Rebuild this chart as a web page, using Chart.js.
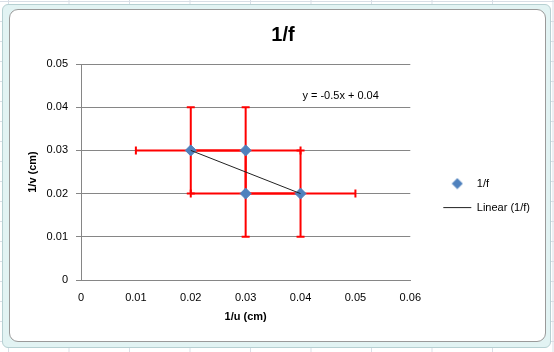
<!DOCTYPE html>
<html>
<head>
<meta charset="utf-8">
<script src="https://cdn.jsdelivr.net/npm/chart.js@4"></script>
<style>
  html, body { margin: 0; padding: 0; }
  body {
    width: 554px; height: 352px; overflow: hidden; position: relative; background: #fff;
    background-image: linear-gradient(90deg, #d8dee6 1px, transparent 1px), linear-gradient(#d8dee6 1px, transparent 1px);
    background-size: 60.5px 20px;
    background-position: 8px 0, 0 1px;
  }
  #frame {
    position: absolute; left: 2px; top: 4px; width: 547px; height: 342px;
    background: #e2f3f3; border: 1px solid #b6d0d2; border-radius: 6px;
  }
  #inner {
    position: absolute; left: 9px; top: 9px; width: 535px; height: 331px;
    background: #fff; border: 1px solid #9a9a9a; border-radius: 9px;
  }
  #wrap { position: absolute; left: 0; top: 0; width: 554px; height: 352px; }
</style>
</head>
<body>
<div id="frame"></div>
<div id="inner"></div>
<div id="wrap"><canvas id="chart" width="554" height="352"></canvas></div>
<script>
// measurements: 1/u and 1/v (cm)
const invU = [0.02, 0.03, 0.03, 0.04];
const invV = [0.03, 0.03, 0.02, 0.02];
const errU = [0.01, 0.01, 0.01, 0.01];
const errV = [0.01, 0.01, 0.01, 0.01];

const xTickLabels = ['0', '0.01', '0.02', '0.03', '0.04', '0.05', '0.06'];
const yTickLabels = ['0', '0.01', '0.02', '0.03', '0.04', '0.05'];

// least squares trend line
const n = invU.length;
const mx = invU.reduce((a, b) => a + b, 0) / n;
const my = invV.reduce((a, b) => a + b, 0) / n;
let sxy = 0, sxx = 0;
for (let i = 0; i < n; i++) {
    sxy += (invU[i] - mx) * (invV[i] - my);
    sxx += (invU[i] - mx) * (invU[i] - mx);
}
const slope = sxy / sxx;
const intercept = my - slope * mx;
const xMin = Math.min(...invU), xMax = Math.max(...invU);
const eqText = 'y = ' + (+slope.toFixed(4)) + 'x + ' + (+intercept.toFixed(4));

const FONT = '"Liberation Sans", Arial, sans-serif';
const BLUE = '#4f81bd';

// small diamond for the legend (so the line entry can be wider)
const diamond = document.createElement('canvas');
diamond.width = 12; diamond.height = 12;
(function () {
    const d = diamond.getContext('2d');
    d.fillStyle = BLUE;
    d.beginPath();
    d.moveTo(6, 0.5); d.lineTo(11.5, 6); d.lineTo(6, 11.5); d.lineTo(0.5, 6);
    d.closePath();
    d.fill();
})();

const errorBars = {
    id: 'errorBars',
    beforeDatasetsDraw(chart) {
        const ctx = chart.ctx;
        const xs = chart.scales.x, ys = chart.scales.y;
        const cap = 4;
        ctx.save();
        ctx.strokeStyle = '#ff0000';
        ctx.lineWidth = 2;
        for (let i = 0; i < invU.length; i++) {
            const px = xs.getPixelForValue(invU[i]);
            const py = ys.getPixelForValue(invV[i]);
            const x1 = xs.getPixelForValue(invU[i] - errU[i]);
            const x2 = xs.getPixelForValue(invU[i] + errU[i]);
            const y1 = ys.getPixelForValue(invV[i] - errV[i]);
            const y2 = ys.getPixelForValue(invV[i] + errV[i]);
            ctx.beginPath();
            ctx.moveTo(x1, py); ctx.lineTo(x2, py);
            ctx.moveTo(x1, py - cap); ctx.lineTo(x1, py + cap);
            ctx.moveTo(x2, py - cap); ctx.lineTo(x2, py + cap);
            ctx.moveTo(px, y1); ctx.lineTo(px, y2);
            ctx.moveTo(px - cap, y1); ctx.lineTo(px + cap, y1);
            ctx.moveTo(px - cap, y2); ctx.lineTo(px + cap, y2);
            ctx.stroke();
        }
        ctx.restore();
    },
    afterDatasetsDraw(chart) {
        const ctx = chart.ctx;
        const xs = chart.scales.x, ys = chart.scales.y;
        ctx.save();
        ctx.fillStyle = '#000';
        ctx.font = '11px ' + FONT;
        ctx.textAlign = 'center';
        ctx.textBaseline = 'middle';
        ctx.fillText(eqText, xs.getPixelForValue(0.0473), ys.getPixelForValue(0.0425));
        ctx.restore();
    }
};

const ctx = document.getElementById('chart').getContext('2d');
const myChart = new Chart(ctx, {
    type: 'scatter',
    data: {
        datasets: [{
            label: '1/f',
            data: invU.map((x, i) => ({ x: x, y: invV[i] })),
            pointStyle: 'rectRot',
            pointRadius: 5.5,
            backgroundColor: BLUE,
            borderColor: BLUE,
            borderWidth: 1,
            order: 1
        }, {
            label: 'Linear (1/f)',
            type: 'line',
            data: [{ x: xMin, y: slope * xMin + intercept }, { x: xMax, y: slope * xMax + intercept }],
            borderColor: '#222',
            backgroundColor: '#222',
            borderWidth: 1,
            pointRadius: 0,
            pointStyle: 'line',
            fill: false,
            order: 0
        }]
    },
    options: {
        responsive: false,
        animation: false,
        layout: { padding: { left: 26, right: 14, top: 13, bottom: 22 } },
        plugins: {
            title: {
                display: true,
                text: '1/f',
                color: '#000',
                font: { family: FONT, size: 20, weight: 'bold' },
                padding: { top: 10, bottom: 17 }
            },
            legend: {
                position: 'right',
                maxWidth: 200,
                title: { display: true, text: ' ', font: { size: 11 }, padding: { top: 0, bottom: 35 } },
                labels: {
                    usePointStyle: true,
                    pointStyleWidth: 28,
                    boxHeight: 8,
                    color: '#000',
                    font: { family: FONT, size: 11 },
                    padding: 13,
                    sort: (a, b) => a.datasetIndex - b.datasetIndex,
                    generateLabels(chart) {
                        const items = Chart.defaults.plugins.legend.labels.generateLabels(chart);
                        items.forEach(it => {
                            if (it.datasetIndex === 0) it.pointStyle = diamond;
                            it.lineWidth = 1;
                        });
                        return items;
                    }
                }
            },
            tooltip: { enabled: false }
        },
        scales: {
            x: {
                type: 'linear',
                min: 0, max: 0.06,
                ticks: {
                    stepSize: 0.01,
                    color: '#000',
                    font: { family: FONT, size: 11 },
                    maxRotation: 0,
                    padding: 6,
                    callback: (v, i) => xTickLabels[i]
                },
                grid: { display: false, drawTicks: true, tickLength: 5, tickColor: '#868686' },
                border: { color: '#868686', width: 1 },
                title: {
                    display: true, text: '1/u (cm)', color: '#000',
                    font: { family: FONT, size: 11, weight: 'bold' },
                    padding: { top: 4, bottom: 6 }
                },
                afterFit(scale) { scale.height = 50; }
            },
            y: {
                type: 'linear',
                min: 0, max: 0.05,
                ticks: {
                    stepSize: 0.01,
                    color: '#000',
                    font: { family: FONT, size: 11 },
                    padding: 8,
                    callback: (v, i) => yTickLabels[i]
                },
                grid: { color: '#868686', lineWidth: 1, tickLength: 5, tickColor: '#868686' },
                border: { color: '#868686', width: 1 },
                title: {
                    display: true, text: '1/v (cm)', color: '#000',
                    font: { family: FONT, size: 11, weight: 'bold' },
                    padding: { top: 0, bottom: 8 }
                },
                afterFit(scale) { scale.width = 55; }
            },
            // empty spacer between plot area and legend
            gap: {
                type: 'linear',
                position: 'right',
                display: true,
                ticks: { display: false },
                grid: { display: false, drawTicks: false },
                border: { display: false },
                afterFit(scale) { scale.width = 20; }
            }
        }
    },
    plugins: [errorBars]
});
</script>
</body>
</html>
